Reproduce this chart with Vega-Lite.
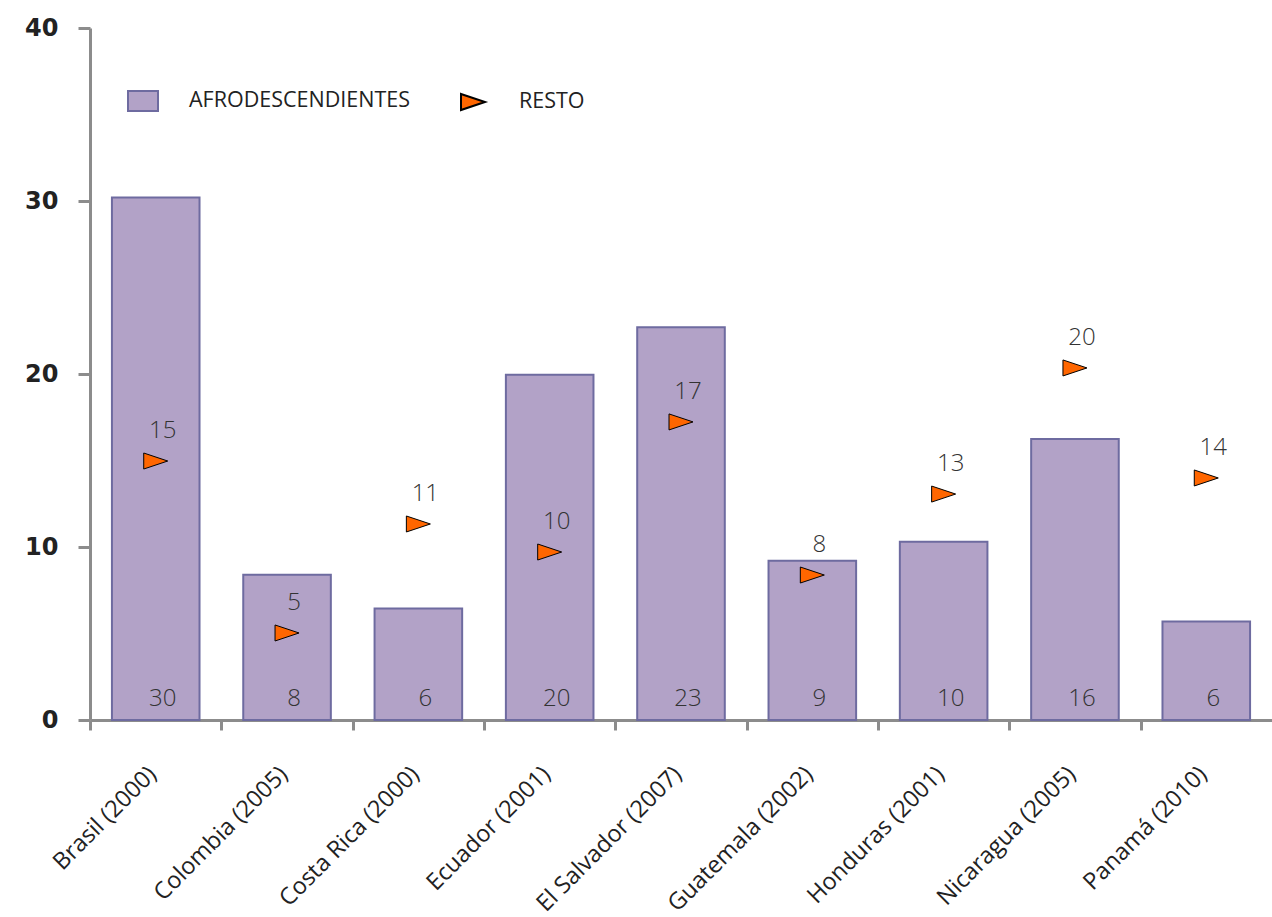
{
  "$schema": "https://vega.github.io/schema/vega-lite/v6.json",
  "width": 1182,
  "height": 692,
  "autosize": {"type": "none"},
  "padding": {"left": 90, "top": 28, "right": 0, "bottom": 197},
  "background": "white",
  "config": {
    "view": {"stroke": null},
    "axis": {"grid": false, "domainColor": "#8c8c8c", "domainWidth": 3, "tickColor": "#8c8c8c", "tickWidth": 3}
  },
  "data": {
    "values": [
      {"pais": "Brasil (2000)", "serie": "Afrodescendientes", "valor": 30.2},
      {"pais": "Colombia (2005)", "serie": "Afrodescendientes", "valor": 8.4},
      {"pais": "Costa Rica (2000)", "serie": "Afrodescendientes", "valor": 6.45},
      {"pais": "Ecuador (2001)", "serie": "Afrodescendientes", "valor": 19.95},
      {"pais": "El Salvador (2007)", "serie": "Afrodescendientes", "valor": 22.7},
      {"pais": "Guatemala (2002)", "serie": "Afrodescendientes", "valor": 9.2},
      {"pais": "Honduras (2001)", "serie": "Afrodescendientes", "valor": 10.3},
      {"pais": "Nicaragua (2005)", "serie": "Afrodescendientes", "valor": 16.25},
      {"pais": "Panamá (2010)", "serie": "Afrodescendientes", "valor": 5.7},
      {"pais": "Brasil (2000)", "serie": "Resto", "valor": 14.97},
      {"pais": "Colombia (2005)", "serie": "Resto", "valor": 5.03},
      {"pais": "Costa Rica (2000)", "serie": "Resto", "valor": 11.33},
      {"pais": "Ecuador (2001)", "serie": "Resto", "valor": 9.71},
      {"pais": "El Salvador (2007)", "serie": "Resto", "valor": 17.23},
      {"pais": "Guatemala (2002)", "serie": "Resto", "valor": 8.38},
      {"pais": "Honduras (2001)", "serie": "Resto", "valor": 13.06},
      {"pais": "Nicaragua (2005)", "serie": "Resto", "valor": 20.35},
      {"pais": "Panamá (2010)", "serie": "Resto", "valor": 13.99}
    ]
  },
  "encoding": {
    "x": {
      "field": "pais", "type": "nominal", "sort": null,
      "scale": {"paddingInner": 0.333, "paddingOuter": 0.167},
      "axis": {
        "title": null, "labelAngle": -45, "labelAlign": "right", "labelBaseline": "top",
        "labelFont": "Open Sans", "labelFontSize": 23.5, "labelLimit": 400,
        "labelColor": "#222222", "tickSize": 10, "tickOffset": -65.67, "labelOffset": 53.67, "labelPadding": 32
      }
    }
  },
  "layer": [
    {
      "transform": [{"filter": "datum.serie === 'Afrodescendientes'"}],
      "mark": {"type": "bar", "strokeWidth": 2},
      "encoding": {
        "y": {
          "field": "valor", "type": "quantitative",
          "scale": {"domain": [0, 40]},
          "axis": {
            "title": null, "values": [0, 10, 20, 30, 40], "labelFont": "DejaVu Sans", "labelFontWeight": "bold",
            "labelFontSize": 24, "labelColor": "#222222", "tickSize": 12, "labelPadding": 20
          }
        },
        "fill": {
          "field": "serie", "type": "nominal",
          "scale": {"domain": ["Afrodescendientes", "Resto"], "range": ["#b2a2c7", "#ff6600"]},
          "legend": {
            "title": null, "orient": "none", "legendX": 40, "legendY": 60, "direction": "horizontal",
            "labelExpr": "upper(datum.label)", "labelFont": "Open Sans", "labelFontSize": 21.5, "labelLimit": 500,
            "labelColor": "#222222", "symbolSize": 576, "labelOffset": 33, "columnPadding": 46,
            "symbolStrokeWidth": 2
          }
        },
        "stroke": {
          "field": "serie", "type": "nominal",
          "scale": {"domain": ["Afrodescendientes", "Resto"], "range": ["#6e6ba0", "#000000"]},
          "legend": {
            "title": null, "orient": "none", "legendX": 40, "legendY": 60, "direction": "horizontal",
            "labelExpr": "upper(datum.label)", "labelFont": "Open Sans", "labelFontSize": 21.5, "labelLimit": 500,
            "labelColor": "#222222", "symbolSize": 576, "labelOffset": 33, "columnPadding": 46,
            "symbolStrokeWidth": 2
          }
        }
      }
    },
    {
      "transform": [{"filter": "datum.serie === 'Afrodescendientes'"}],
      "mark": {"type": "text", "baseline": "bottom", "dy": -9, "dx": 7, "font": "Open Sans", "fontSize": 24, "fontWeight": 300, "color": "#333333"},
      "encoding": {
        "y": {"datum": 0, "type": "quantitative"},
        "text": {"field": "valor", "type": "quantitative", "format": ".0f"}
      }
    },
    {
      "transform": [{"filter": "datum.serie === 'Resto'"}],
      "mark": {"type": "point", "filled": true, "size": 576, "strokeWidth": 1, "opacity": 1},
      "encoding": {
        "y": {"field": "valor", "type": "quantitative"},
        "fill": {"field": "serie", "type": "nominal"},
        "stroke": {"field": "serie", "type": "nominal"},
        "shape": {
          "field": "serie", "type": "nominal",
          "scale": {"domain": ["Afrodescendientes", "Resto"], "range": ["M-1.25,-0.833L1.25,-0.833L1.25,0.833L-1.25,0.833Z", "M-1,-0.667L1,0L-1,0.667Z"]},
          "legend": {
            "title": null, "orient": "none", "legendX": 40, "legendY": 60, "direction": "horizontal",
            "labelExpr": "upper(datum.label)", "labelFont": "Open Sans", "labelFontSize": 21.5, "labelLimit": 500,
            "labelColor": "#222222", "symbolSize": 576, "labelOffset": 33, "columnPadding": 46,
            "symbolStrokeWidth": 2
          }
        }
      }
    },
    {
      "transform": [{"filter": "datum.serie === 'Resto'"}],
      "mark": {"type": "text", "baseline": "bottom", "dy": -18, "dx": 7, "font": "Open Sans", "fontSize": 24, "fontWeight": 300, "color": "#333333"},
      "encoding": {
        "y": {"field": "valor", "type": "quantitative"},
        "text": {"field": "valor", "type": "quantitative", "format": ".0f"}
      }
    }
  ]
}
